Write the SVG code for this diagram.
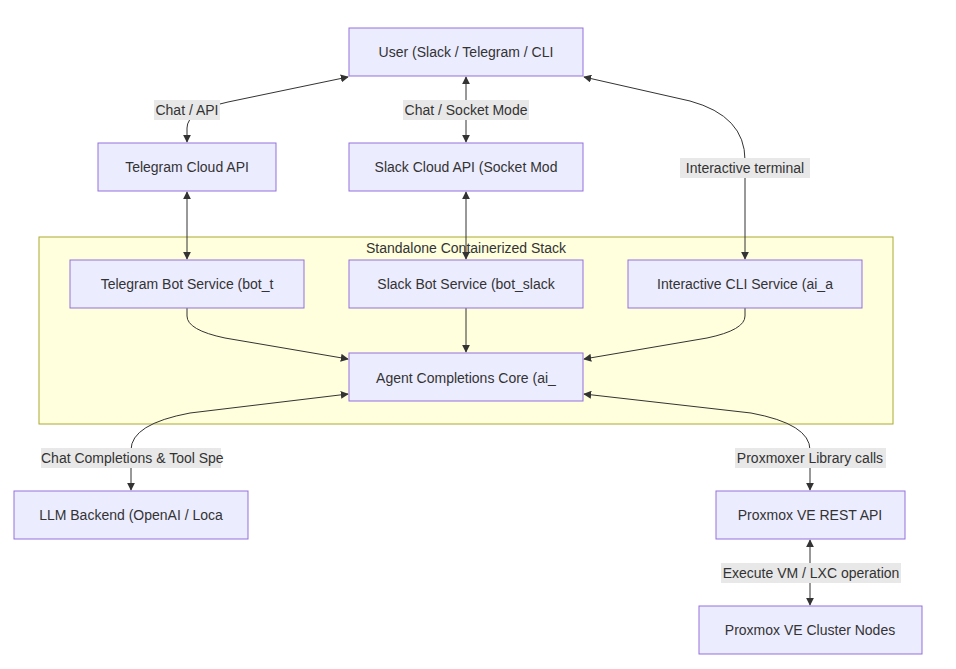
<svg xmlns="http://www.w3.org/2000/svg" width="956" height="669" viewBox="0 0 956 669">
<style>
.node rect{fill:#ECECFF;stroke:#9370DB;stroke-width:1}
.t{font-family:"Liberation Sans",Arial,sans-serif;font-size:14px;fill:#333;text-anchor:middle;dominant-baseline:central}
.s{text-anchor:start}
.e{fill:none;stroke:#333;stroke-width:1}
.lb{fill:#e8e8e8}
</style>
<defs>
<marker id="ae" viewBox="0 0 10 10" refX="9" refY="5" markerWidth="8" markerHeight="8" orient="auto" markerUnits="userSpaceOnUse"><path d="M0,0 L10,5 L0,10 z" fill="#333"/></marker>
<marker id="as" viewBox="0 0 10 10" refX="1" refY="5" markerWidth="8" markerHeight="8" orient="auto" markerUnits="userSpaceOnUse"><path d="M10,0 L0,5 L10,10 z" fill="#333"/></marker>
</defs>
<g id="cluster-stack">
<rect x="39" y="237" width="854" height="187" fill="#ffffde" stroke="#aaaa33"/>
<text class="t" x="466" y="248">Standalone Containerized Stack</text>
</g>
<g id="connectors">
<path class="e" d="M348,77 L228,102 Q187,111 187,128 L187,142" marker-start="url(#as)" marker-end="url(#ae)"/>
<path class="e" d="M466,77 L466,142" marker-start="url(#as)" marker-end="url(#ae)"/>
<path class="e" d="M584,77 L690,101 Q745,116 745,160 L745,259" marker-start="url(#as)" marker-end="url(#ae)"/>
<path class="e" d="M187,192 L187,259" marker-start="url(#as)" marker-end="url(#ae)"/>
<path class="e" d="M466,192 L466,259" marker-start="url(#as)" marker-end="url(#ae)"/>
<path class="e" d="M187,308 L187,316 Q187,330 225,338 L348,359" marker-end="url(#ae)"/>
<path class="e" d="M466,308 L466,352" marker-end="url(#ae)"/>
<path class="e" d="M745,308 L745,316 Q745,330 707,338 L584,359" marker-end="url(#ae)"/>
<path class="e" d="M348,394 L190,413 Q131,424 131,450 L131,490" marker-start="url(#as)" marker-end="url(#ae)"/>
<path class="e" d="M584,394 L751,413 Q810,424 810,450 L810,490" marker-start="url(#as)" marker-end="url(#ae)"/>
<path class="e" d="M810,540 L810,605" marker-start="url(#as)" marker-end="url(#ae)"/>
<g id="edge-labels">
<rect class="lb" x="154" y="100" width="66" height="20"/><text class="t" x="187" y="110">Chat / API</text>
<rect class="lb" x="403" y="100" width="126" height="20"/><text class="t" x="466" y="110">Chat / Socket Mode</text>
<rect class="lb" x="680" y="158" width="130" height="20"/><text class="t" x="745" y="168">Interactive terminal</text>
<rect class="lb" x="41" y="448" width="180" height="20"/><text class="t s" x="41" y="458">Chat Completions &amp; Tool Spe</text>
<rect class="lb" x="735" y="448" width="151" height="20"/><text class="t" x="810" y="458">Proxmoxer Library calls</text>
<rect class="lb" x="721" y="563" width="180" height="20"/><text class="t" x="811" y="573">Execute VM / LXC operation</text>
</g>
</g>
<g id="user" class="node"><rect x="349" y="28" width="234" height="48"/><text class="t" x="466" y="52">User (Slack / Telegram / CLI</text></g>
<g id="telegram-cloud" class="node"><rect x="98" y="143" width="178" height="48"/><text class="t" x="187" y="167">Telegram Cloud API</text></g>
<g id="slack-cloud" class="node"><rect x="349" y="143" width="234" height="48"/><text class="t" x="466" y="167">Slack Cloud API (Socket Mod</text></g>
<g id="telegram-bot" class="node"><rect x="70" y="260" width="234" height="48"/><text class="t" x="187" y="284">Telegram Bot Service (bot_t</text></g>
<g id="slack-bot" class="node"><rect x="349" y="260" width="234" height="48"/><text class="t" x="466" y="284">Slack Bot Service (bot_slack</text></g>
<g id="cli" class="node"><rect x="628" y="260" width="234" height="48"/><text class="t" x="745" y="284">Interactive CLI Service (ai_a</text></g>
<g id="agent-core" class="node"><rect x="349" y="353" width="234" height="48"/><text class="t" x="466" y="378">Agent Completions Core (ai_</text></g>
<g id="llm" class="node"><rect x="14" y="491" width="234" height="48"/><text class="t" x="131" y="515">LLM Backend (OpenAI / Loca</text></g>
<g id="pve-api" class="node"><rect x="716" y="491" width="189" height="48"/><text class="t" x="810" y="515">Proxmox VE REST API</text></g>
<g id="pve-nodes" class="node"><rect x="699" y="606" width="223" height="48"/><text class="t" x="810" y="630">Proxmox VE Cluster Nodes</text></g>
</svg>
